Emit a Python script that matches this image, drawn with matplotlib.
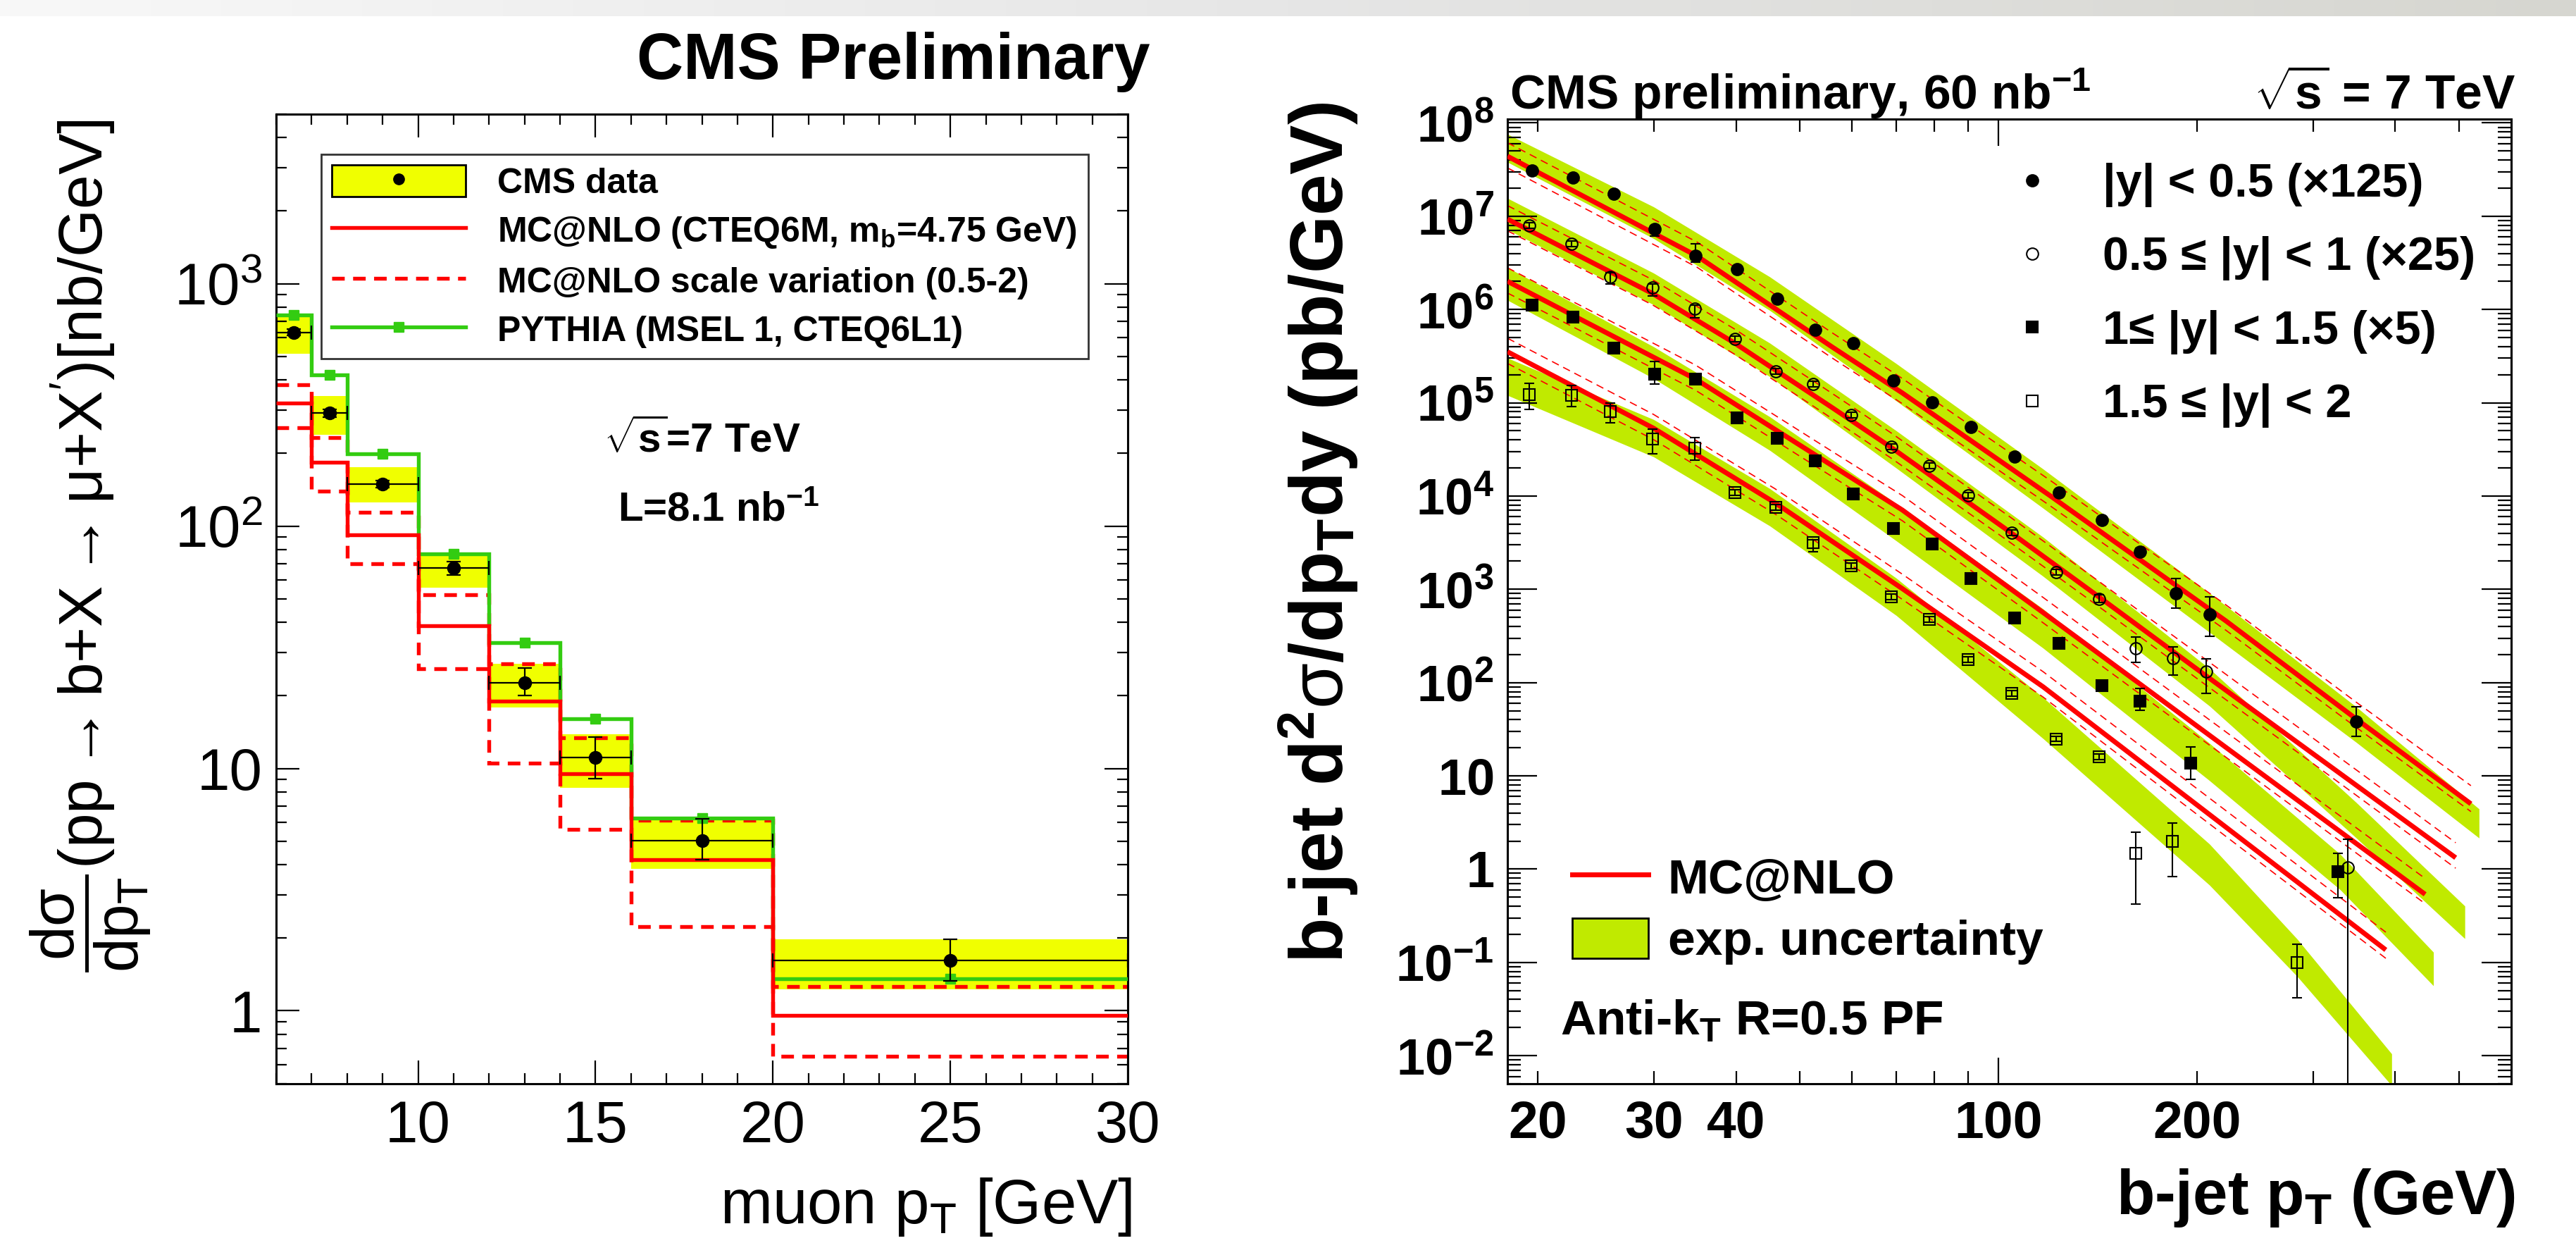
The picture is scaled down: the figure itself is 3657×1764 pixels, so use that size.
import numpy as np
import matplotlib
matplotlib.use('Agg')
import matplotlib.pyplot as plt
from matplotlib.patches import Patch
from matplotlib.lines import Line2D
from matplotlib.colors import LinearSegmentedColormap
from matplotlib.ticker import FixedLocator, FixedFormatter, NullFormatter, LogLocator, MultipleLocator

plt.rcParams['font.family'] = ['Liberation Sans', 'DejaVu Sans']
plt.rcParams['mathtext.fontset'] = 'custom'
plt.rcParams['mathtext.rm'] = 'Liberation Sans'
plt.rcParams['mathtext.it'] = 'Liberation Sans'
plt.rcParams['mathtext.sf'] = 'Liberation Sans'
plt.rcParams['mathtext.bf'] = 'Liberation Sans:bold'
plt.rcParams['axes.linewidth'] = 2.2
plt.rcParams['legend.fancybox'] = False

# ---------------- left panel: muon pT spectrum ----------------
mu_edges = [6, 7, 8, 10, 12, 14, 16, 20, 30]
mu_data = [630, 292, 149, 67, 22.5, 11.1, 5.05, 1.61]
mu_err_up = [20, 10, 5, 4.5, 3.5, 2.4, 1.15, 0.36]
mu_err_dn = [20, 10, 5, 4.0, 2.5, 2.0, 0.85, 0.28]
mu_sys_lo = [515, 238, 125, 55.8, 17.9, 8.3, 3.84, 1.23]
mu_sys_hi = [745, 343, 175, 76.6, 27.1, 13.8, 6.3, 1.97]
mcnlo = [321, 183, 92, 38.7, 18.9, 9.5, 4.2, 0.96]
mcnlo_hi = [382, 231, 114, 52, 27, 13.4, 6.1, 1.26]
mcnlo_lo = [254, 139, 70, 25.7, 10.5, 5.6, 2.23, 0.65]
pythia = [745, 419, 199, 77, 33, 16, 6.25, 1.36]

# ---------------- right panel: b-jet pT spectra (log10 values) ----------------
s1_pt = [19.6, 22.6, 26.1, 30.1, 34.7, 40.1, 46.2, 52.8, 60.3, 69.3, 79.3, 90.8, 105.7, 123.7, 143.6, 163.9, 185.8, 209, 348.7]
s1_log = [7.49, 7.416, 7.242, 6.864, 6.577, 6.432, 6.113, 5.784, 5.639, 5.237, 5.003, 4.739, 4.423, 4.037, 3.740, 3.403, 2.958, 2.729, 1.582]
s1_eup = [0.03, 0.03, 0.03, 0.04, 0.13, 0.03, 0.03, 0.03, 0.03, 0.03, 0.03, 0.03, 0.03, 0.03, 0.03, 0.04, 0.159, 0.189, 0.157]
s1_edn = [0.03, 0.03, 0.03, 0.075, 0.07, 0.03, 0.03, 0.03, 0.03, 0.03, 0.03, 0.03, 0.03, 0.03, 0.03, 0.04, 0.162, 0.23, 0.161]

s2_pt = [19.4, 22.5, 25.8, 29.9, 34.6, 39.8, 45.9, 52.3, 59.8, 68.8, 78.6, 89.9, 104.8, 122.4, 142.0, 161.4, 184.2, 206.8, 339]
s2_log = [6.899, 6.702, 6.351, 6.235, 6.006, 5.687, 5.339, 5.202, 4.865, 4.527, 4.323, 4.005, 3.609, 3.187, 2.899, 2.365, 2.264, 2.116, 0.018]
s2_eup = [0.03, 0.03, 0.04, 0.04, 0.04, 0.03, 0.03, 0.03, 0.03, 0.03, 0.03, 0.03, 0.03, 0.03, 0.04, 0.124, 0.122, 0.141, 0.299]
s2_edn = [0.03, 0.03, 0.077, 0.088, 0.095, 0.03, 0.03, 0.03, 0.03, 0.03, 0.03, 0.03, 0.03, 0.03, 0.04, 0.146, 0.182, 0.229, 4.0]

s3_pt = [19.6, 22.6, 26.1, 30.1, 34.7, 40.1, 46.2, 52.7, 60.3, 69.3, 79.3, 90.8, 105.7, 123.7, 143.6, 163.9, 195.7, 327.6]
s3_log = [6.046, 5.920, 5.588, 5.310, 5.255, 4.84, 4.616, 4.374, 4.024, 3.654, 3.484, 3.115, 2.696, 2.418, 1.968, 1.80, 1.140, -0.029]
s3_eup = [0.03, 0.03, 0.03, 0.13, 0.03, 0.03, 0.03, 0.03, 0.03, 0.03, 0.03, 0.03, 0.03, 0.03, 0.04, 0.14, 0.168, 0.201]
s3_edn = [0.03, 0.03, 0.03, 0.11, 0.03, 0.03, 0.03, 0.03, 0.03, 0.03, 0.03, 0.03, 0.03, 0.03, 0.04, 0.095, 0.178, 0.278]

s4_pt = [19.4, 22.5, 25.8, 29.9, 34.6, 39.8, 45.9, 52.3, 59.8, 68.8, 78.6, 89.9, 104.9, 122.4, 142.0, 161.4, 183.7, 284]
s4_log = [5.089, 5.081, 4.905, 4.609, 4.515, 4.036, 3.881, 3.498, 3.255, 2.918, 2.677, 2.246, 1.882, 1.397, 1.208, 0.166, 0.301, -1.0]
s4_eup = [0.121, 0.107, 0.089, 0.109, 0.11, 0.03, 0.03, 0.03, 0.03, 0.03, 0.03, 0.03, 0.03, 0.03, 0.03, 0.23, 0.197, 0.196]
s4_edn = [0.162, 0.122, 0.12, 0.155, 0.13, 0.03, 0.03, 0.092, 0.03, 0.03, 0.03, 0.03, 0.03, 0.03, 0.03, 0.537, 0.377, 0.376]

# MC@NLO central curves and dashed variation curves (log10)
th1_pt = [18, 34.9, 55.9, 71.5, 120, 221.5, 349, 521]
th1 = [7.643, 6.573, 5.60, 5.105, 4.00, 2.66, 1.61, 0.70]
th1_up = [7.788, 6.723, 5.752, 5.26, 4.165, 2.832, 1.79, 0.895]
th1_dn = [7.518, 6.453, 5.482, 4.99, 3.892, 2.56, 1.52, 0.617]

th2_pt = [18, 29.9, 39.8, 55.9, 68.8, 104.8, 142, 206.8, 494]
th2 = [6.969, 6.17, 5.64, 4.95, 4.52, 3.60, 2.92, 2.07, 0.122]
th2_up = [7.114, 6.318, 5.79, 5.102, 4.675, 3.762, 3.086, 2.242, 0.283]
th2_dn = [6.844, 6.048, 5.52, 4.832, 4.405, 3.49, 2.815, 1.97, 0.01]

th3_pt = [18, 34.7, 55.9, 71.5, 116.9, 444]
th3 = [6.302, 5.255, 4.328, 3.85, 2.751, -0.27]
th3_up = [6.447, 5.405, 4.48, 4.005, 2.913, -0.10]
th3_dn = [6.177, 5.135, 4.21, 3.735, 2.641, -0.37]

th4_pt = [18, 30, 45.9, 71.5, 116.9, 387]
th4 = [5.547, 4.726, 3.924, 3.007, 1.955, -0.866]
th4_up = [5.692, 4.874, 4.075, 3.162, 2.117, -0.676]
th4_dn = [5.422, 4.604, 3.805, 2.892, 1.845, -0.956]

# experimental uncertainty bands (log10)
band1_pt = [18, 30, 45, 70, 116.9, 209, 349, 536]
band1_lo = [7.58, 6.76, 5.99, 5.02, 3.87, 2.54, 1.36, 0.334]
band1_hi = [7.88, 7.10, 6.35, 5.42, 4.29, 2.96, 1.74, 0.646]
band2_pt = [18, 30, 45, 70, 116.9, 209, 349, 510]
band2_lo = [6.857, 6.05, 5.28, 4.30, 3.14, 1.75, 0.335, -0.745]
band2_hi = [7.193, 6.39, 5.64, 4.70, 3.56, 2.15, 0.715, -0.395]
band3_pt = [18, 30, 45, 70, 116.9, 209, 330, 457]
band3_lo = [6.10, 5.26, 4.49, 3.52, 2.37, 0.95, -0.22, -1.25]
band3_hi = [6.45, 5.60, 4.85, 3.92, 2.79, 1.35, 0.16, -0.89]
band4_pt = [18, 30, 45, 70, 116.9, 209, 284, 395]
band4_lo = [5.08, 4.42, 3.68, 2.72, 1.40, -0.17, -1.15, -2.32]
band4_hi = [5.48, 4.82, 4.08, 3.12, 1.84, 0.27, -0.75, -1.98]

series_labels = ['|y| < 0.5 (×125)', '0.5 ≤ |y| < 1 (×25)', '1≤ |y| < 1.5 (×5)', '1.5 ≤ |y| < 2']

YELLOW = '#f0ff00'
GREEN = '#33cc11'
LIME = '#c0ea00'

fig = plt.figure(figsize=(36.57, 17.64), dpi=100)

# slide header strip
gax = fig.add_axes([0, 1 - 23 / 1764, 1, 23 / 1764])
gax.imshow(np.linspace(0, 1, 256)[None, :], aspect='auto', extent=[0, 1, 0, 1],
           cmap=LinearSegmentedColormap.from_list('hdr', ['#f8f8f8', '#e6e6e6', '#d6d6d0']))
gax.axis('off')

# ================= left =================
ax1 = fig.add_axes([0.1072, 0.1281, 0.3306, 0.7800])
ax1.set_yscale('log')
edges = np.array(mu_edges, dtype=float)
centers = 0.5 * (edges[:-1] + edges[1:])
halfw = 0.5 * np.diff(edges)

ax1.bar(edges[:-1], np.array(mu_sys_hi) - np.array(mu_sys_lo), width=np.diff(edges),
        bottom=mu_sys_lo, align='edge', color=YELLOW, lw=0, zorder=1)
for vals in (mcnlo_hi, mcnlo_lo):
    ax1.stairs(vals, edges, baseline=None, color='red', lw=3.9, ls=(0, (3.3, 2.2)), zorder=2)
ax1.stairs(pythia, edges, baseline=None, color=GREEN, lw=3.9, zorder=3)
ax1.plot(centers, pythia, 's', color=GREEN, ms=10, zorder=3)
ax1.stairs(mcnlo, edges, baseline=None, color='red', lw=3.9, zorder=4)
ax1.errorbar(centers, mu_data, yerr=[mu_err_dn, mu_err_up], xerr=halfw, fmt='o', color='k',
             ms=13, elinewidth=1.6, capsize=7, capthick=1.6, zorder=6)

ax1.set_xlim(6, 30)
ax1.set_ylim(0.5, 5000)
ax1.xaxis.set_major_locator(FixedLocator([10, 15, 20, 25, 30]))
ax1.xaxis.set_minor_locator(MultipleLocator(1))
ax1.yaxis.set_major_locator(FixedLocator([1, 10, 100, 1000]))
ax1.yaxis.set_major_formatter(FixedFormatter(['1', '10', r'$10^{2}$', r'$10^{3}$']))
ax1.yaxis.set_minor_locator(LogLocator(base=10, subs=np.arange(2, 10), numticks=20))
ax1.yaxis.set_minor_formatter(NullFormatter())
ax1.tick_params(which='major', direction='in', length=24, width=1.6, top=True, right=True, labelsize=60)
ax1.tick_params(which='minor', direction='in', length=11, width=1.6, top=True, right=True)
ax1.tick_params(axis='x', which='major', pad=16)
ax1.tick_params(axis='y', which='major', pad=14)

ax1.set_xlabel(r'muon p$_{T}$ [GeV]', fontsize=64, ha='right', va='top')
ax1.xaxis.set_label_coords(1.005, -0.095)
ax1.set_ylabel(r'$\dfrac{d\sigma}{dp_{T}}$(pp$\rightarrow$b+X$\rightarrow\mu$+X$^{\prime}$)[nb/GeV]', fontsize=63)
ax1.yaxis.set_label_coords(-0.145, 0.555)

h_data = (Patch(facecolor=YELLOW, edgecolor='k', lw=2),
          Line2D([], [], marker='o', color='k', ls='none', ms=11))
h_nlo = Line2D([], [], color='red', lw=3.9)
h_scl = Line2D([], [], color='red', lw=3.9, ls=(0, (3.3, 2.2)))
h_py = Line2D([], [], color=GREEN, lw=3.9, marker='s', ms=10)
leg1 = ax1.legend([h_data, h_nlo, h_scl, h_py],
                  ['CMS data', r'MC@NLO (CTEQ6M, m$_{\mathbf{b}}$=4.75 GeV)',
                   'MC@NLO scale variation (0.5-2)', 'PYTHIA (MSEL 1, CTEQ6L1)'],
                  loc='upper left', bbox_to_anchor=(0.053, 0.7573, 0.9007, 0.2013), mode='expand',
                  prop={'size': 36, 'weight': 'bold'}, handlelength=3.8, handleheight=1.0,
                  handletextpad=0.9, labelspacing=0.4, borderpad=0.3, borderaxespad=0,
                  frameon=True, edgecolor='k')
leg1.get_frame().set_linewidth(2)

ax1.text(0.385, 0.651, r'$\sqrt{\mathbf{s}}$=7 TeV', transform=ax1.transAxes, fontsize=42,
         fontweight='bold', va='baseline')
ax1.text(0.401, 0.581, r'L=8.1 nb$^{\mathbf{-1}}$', transform=ax1.transAxes, fontsize=42,
         fontweight='bold', va='baseline')
fig.text(1268 / 3657, 1 - 112 / 1764, 'CMS Preliminary', ha='center', va='baseline',
         fontsize=66, fontweight='bold')

# ================= right =================
ax2 = fig.add_axes([0.5852, 0.1281, 0.3897, 0.7761])
ax2.set_xscale('log')
ax2.set_yscale('log')

bands = [(band1_pt, band1_lo, band1_hi), (band2_pt, band2_lo, band2_hi),
         (band3_pt, band3_lo, band3_hi), (band4_pt, band4_lo, band4_hi)]
for bpt, blo, bhi in bands:
    ax2.fill_between(bpt, 10 ** np.array(blo), 10 ** np.array(bhi), color=LIME, lw=0, zorder=1)

theory = [(th1_pt, th1, th1_up, th1_dn), (th2_pt, th2, th2_up, th2_dn),
          (th3_pt, th3, th3_up, th3_dn), (th4_pt, th4, th4_up, th4_dn)]
for tpt, tc, tu, td in theory:
    for tv in (tu, td):
        ax2.plot(tpt, 10 ** np.array(tv), color='red', lw=1.2, dashes=(6.5, 4.2), zorder=2)
    ax2.plot(tpt, 10 ** np.array(tc), color='red', lw=5, solid_capstyle='butt', zorder=3)

data = [(s1_pt, s1_log, s1_eup, s1_edn, 'o', 'k'), (s2_pt, s2_log, s2_eup, s2_edn, 'o', 'none'),
        (s3_pt, s3_log, s3_eup, s3_edn, 's', 'k'), (s4_pt, s4_log, s4_eup, s4_edn, 's', 'none')]
handles = []
for pt, lv, eu, ed, mk, fc in data:
    lv = np.array(lv)
    y = 10 ** lv
    yerr = [y - 10 ** (lv - np.array(ed)), 10 ** (lv + np.array(eu)) - y]
    ax2.errorbar(pt, y, yerr=yerr, fmt=mk, mfc=fc, mec='k', mew=1.5, color='k', ms=12,
                 elinewidth=1.5, capsize=5, capthick=1.5, zorder=6)
    handles.append(Line2D([], [], marker=mk, mfc=fc, mec='k', mew=1.5, ls='none', ms=12))

ax2.set_xlim(18, 600)
ax2.set_ylim(5e-3, 1.1e8)
ax2.xaxis.set_major_locator(FixedLocator([100]))
ax2.xaxis.set_major_formatter(FixedFormatter(['100']))
ax2.xaxis.set_minor_locator(FixedLocator([20, 30, 40, 50, 60, 70, 80, 90, 200, 300, 400, 500]))
ax2.xaxis.set_minor_formatter(FixedFormatter(['20', '30', '40', '', '', '', '', '', '200', '', '', '']))
ax2.yaxis.set_major_locator(FixedLocator([10.0 ** k for k in range(-2, 9)]))
ylabels = []
for k in range(-2, 9):
    if k == 0:
        ylabels.append(r'$\mathbf{1}$')
    elif k == 1:
        ylabels.append(r'$\mathbf{10}$')
    else:
        ylabels.append(r'$\mathbf{10}^{\mathbf{%d}}$' % k)
ax2.yaxis.set_major_formatter(FixedFormatter(ylabels))
ax2.yaxis.set_minor_locator(LogLocator(base=10, subs=np.arange(2, 10), numticks=30))
ax2.yaxis.set_minor_formatter(NullFormatter())
ax2.tick_params(axis='y', which='major', direction='in', length=30, width=1.6, right=True, labelsize=52, pad=14)
ax2.tick_params(axis='y', which='minor', direction='in', length=14, width=1.6, right=True)
ax2.tick_params(axis='x', which='major', direction='in', length=27, width=1.6, top=True, labelsize=54, pad=16)
ax2.tick_params(axis='x', which='minor', direction='in', length=13, width=1.6, top=True, labelsize=54, pad=16)
for lab in ax2.get_xticklabels(which='both'):
    lab.set_fontweight('bold')

ax2.set_xlabel(r'b-jet p$_{\mathbf{T}}$ (GeV)', fontsize=64, fontweight='bold', ha='right', va='top')
ax2.xaxis.set_label_coords(1.004, -0.086)
ax2.set_ylabel(r'b-jet d$^{\mathbf{2}}\sigma$/dp$_{\mathbf{T}}$dy (pb/GeV)', fontsize=76, fontweight='bold')
ax2.yaxis.set_label_coords(-0.147, 0.571)

leg2 = ax2.legend(handles, series_labels, loc='upper left', bbox_to_anchor=(0.5086, 0.9547),
                  prop={'size': 48, 'weight': 'bold'}, handlelength=0.6, handletextpad=1.2,
                  labelspacing=0.62, borderpad=0, borderaxespad=0, frameon=False)
ax2.add_artist(leg2)
h_mc = Line2D([], [], color='red', lw=5)
h_exp = Patch(facecolor=LIME, edgecolor='k', lw=2)
ax2.legend([h_mc, h_exp], ['MC@NLO', 'exp. uncertainty'], loc='upper left',
           bbox_to_anchor=(0.0646, 0.236), prop={'size': 50, 'weight': 'bold'},
           handlelength=1.55, handleheight=0.9, handletextpad=0.4, labelspacing=0.3,
           borderpad=0, borderaxespad=0, frameon=False)
ax2.text(0.0526, 0.0643, r'Anti-k$_{\mathbf{T}}$ R=0.5 PF', transform=ax2.transAxes,
         fontsize=50, fontweight='bold', va='center')

fig.text(2143 / 3657, 1 - 155 / 1764, r'CMS preliminary, 60 nb$^{\mathbf{-1}}$', ha='left',
         va='baseline', fontsize=50, fontweight='bold')
fig.text(3571 / 3657, 1 - 155 / 1764, r'$\sqrt{\mathbf{s}}$ = 7 TeV', ha='right', va='baseline',
         fontsize=50, fontweight='bold')

fig.savefig('out.png', dpi=100)
